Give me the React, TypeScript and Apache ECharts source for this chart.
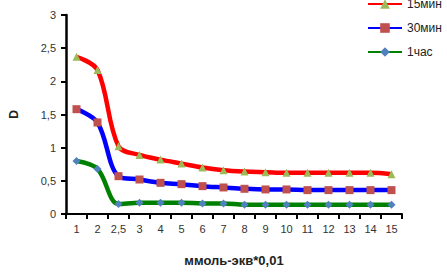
import React, { useEffect, useRef } from "react";
import * as echarts from "echarts";

const categories = ["1", "2", "2,5", "3", "4", "5", "6", "7", "8", "9", "10", "11", "12", "13", "14", "15"];
const min15 = [2.37, 2.17, 1.02, 0.89, 0.82, 0.76, 0.7, 0.66, 0.64, 0.63, 0.62, 0.62, 0.62, 0.62, 0.62, 0.6];
const min30 = [1.58, 1.38, 0.57, 0.52, 0.47, 0.45, 0.42, 0.4, 0.38, 0.37, 0.37, 0.36, 0.36, 0.36, 0.36, 0.36];
const hour1 = [0.8, 0.68, 0.15, 0.17, 0.17, 0.17, 0.16, 0.16, 0.14, 0.14, 0.14, 0.14, 0.14, 0.14, 0.14, 0.14];
const seriesNames = ["15мин", "30мин", "1час"];
const yTicks = [0, 0.5, 1, 1.5, 2, 2.5, 3];

export default function App() {
  const ref = useRef<HTMLDivElement>(null);
  useEffect(() => {
    document.body.style.margin = "0";
    document.body.style.overflow = "hidden";
    const chart = echarts.init(ref.current!, null, { renderer: "svg" });
    const font = "Liberation Sans, Arial, sans-serif";
    const mk = (name: string, data: number[], color: string, symbol: string, symColor: string, size: number) => ({
      name,
      type: "line",
      data,
      smooth: 0.35,
      symbol,
      symbolSize: size,
      lineStyle: { color, width: 4.5 },
      itemStyle: { color: symColor, borderWidth: 0 },
      color,
    });
    chart.setOption({
      animation: false,
      backgroundColor: "#fff",
      textStyle: { fontFamily: font },
      grid: { left: 61, right: 45, top: 15, bottom: 55 },
      legend: {
        orient: "vertical",
        left: 367,
        top: -2,
        padding: 0,
        itemWidth: 34,
        itemHeight: 12,
        itemGap: 12,
        textStyle: { fontFamily: font, fontSize: 12, color: "#222" },
        data: seriesNames,
      },
      xAxis: {
        type: "category",
        data: categories,
        boundaryGap: true,
        name: "ммоль-экв*0,01",
        nameLocation: "middle",
        nameGap: 40,
        nameTextStyle: { fontFamily: font, fontSize: 13, fontWeight: "bold", color: "#222" },
        axisLine: { lineStyle: { color: "#000", width: 2 } },
        axisTick: { show: true, length: 5, lineStyle: { color: "#000", width: 2 } },
        axisLabel: { color: "#333", fontSize: 11, fontFamily: font, margin: 9 },
      },
      yAxis: {
        type: "value",
        min: 0,
        max: 3,
        interval: 0.5,
        name: "D",
        nameLocation: "middle",
        nameGap: 46,
        nameRotate: 90,
        nameTextStyle: { fontFamily: font, fontSize: 12, fontWeight: "bold", color: "#222" },
        splitLine: { show: false },
        axisLine: { show: true, lineStyle: { color: "#000", width: 2.5 } },
        axisTick: { show: true, inside: false, length: 5, lineStyle: { color: "#000", width: 2 } },
        axisLabel: {
          color: "#333",
          fontSize: 11,
          fontFamily: font,
          margin: 10,
          formatter: (v: number) => (yTicks.includes(v) ? String(v).replace(".", ",") : ""),
        },
      },
      series: [
        mk(seriesNames[0], min15, "#ff0000", "triangle", "#9bbb59", 8),
        mk(seriesNames[1], min30, "#0000ff", "rect", "#c0504d", 8),
        mk(seriesNames[2], hour1, "#008000", "diamond", "#4f81bd", 8),
      ],
    });
    return () => chart.dispose();
  }, []);
  return <div ref={ref} style={{ width: 447, height: 272 }} />;
}
